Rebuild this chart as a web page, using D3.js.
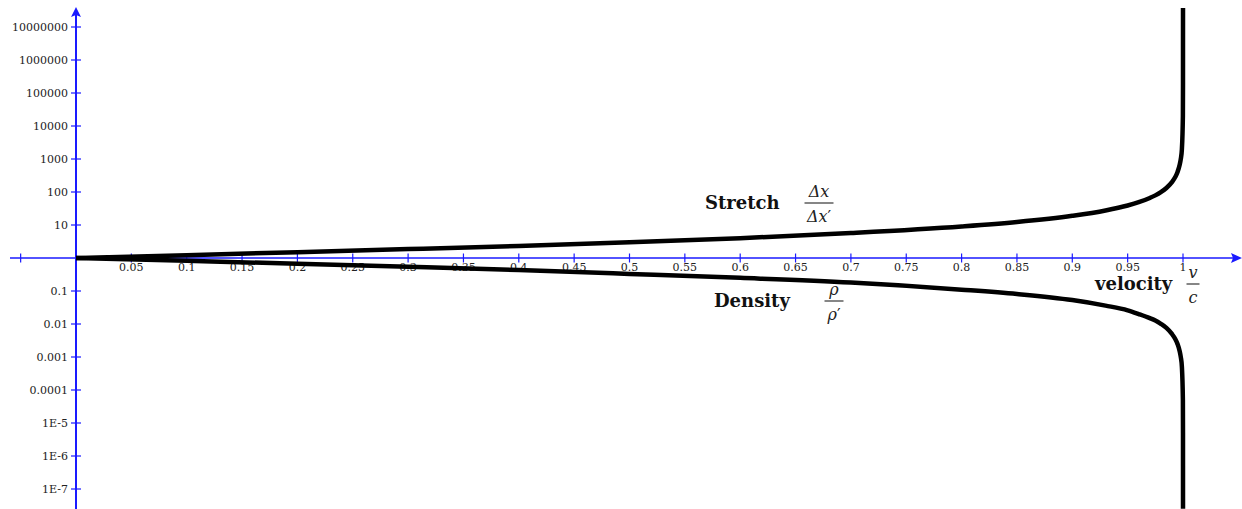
<!DOCTYPE html>
<html>
<head>
<meta charset="utf-8">
<title>Stretch and density vs velocity</title>
<style>
  body { margin: 0; background: #fff; }
  svg { display: block; }
  .tick-label { font: 11px "DejaVu Serif", serif; fill: #222; }
  .big { font: bold 18px "DejaVu Serif", serif; fill: #111; }
  .frac { font: italic 16px "DejaVu Serif", serif; fill: #222; }
  .prime { font-style: normal; }
</style>
</head>
<body>
<script src="https://cdn.jsdelivr.net/npm/d3@7/dist/d3.min.js"></script>
<script>
// values
const velocity = [0, 0.1, 0.2, 0.3, 0.4, 0.5, 0.6, 0.7, 0.8, 0.85, 0.9, 0.93, 0.95, 0.96, 0.97,
  0.975, 0.98, 0.985, 0.99, 0.993, 0.995, 0.997, 0.998, 0.999, 0.9999, 0.99999, 0.999999, 0.9999999, 0.99999995];
const stretch = [1, 1.22, 1.5, 1.86, 2.33, 3, 4, 5.7, 9, 12.3, 19, 27.6, 39, 49, 66,
  79, 99, 132, 199, 284, 399, 665, 999, 1999, 20000, 2e5, 2e6, 2e7, 4e7];
const density = [1, 0.82, 0.67, 0.54, 0.43, 0.33, 0.25, 0.18, 0.11, 0.081, 0.053, 0.036, 0.026, 0.02, 0.015,
  0.0127, 0.0101, 0.0076, 0.005, 0.0035, 0.0025, 0.0015, 0.001, 5e-4, 5e-5, 5e-6, 5e-7, 5e-8, 2.5e-8];

const xTicks = [-0.05, 0.05, 0.1, 0.15, 0.2, 0.25, 0.3, 0.35, 0.4, 0.45, 0.5, 0.55, 0.6, 0.65,
  0.7, 0.75, 0.8, 0.85, 0.9, 0.95, 1];
const xTickLabels = ["", "0.05", "0.1", "0.15", "0.2", "0.25", "0.3", "0.35", "0.4", "0.45", "0.5",
  "0.55", "0.6", "0.65", "0.7", "0.75", "0.8", "0.85", "0.9", "0.95", "1"];
const yTicks = [1e7, 1e6, 1e5, 1e4, 1e3, 100, 10, 0.1, 0.01, 0.001, 1e-4, 1e-5, 1e-6, 1e-7];
const yTickLabels = ["10000000", "1000000", "100000", "10000", "1000", "100", "10",
  "0.1", "0.01", "0.001", "0.0001", "1E-5", "1E-6", "1E-7"];

var width = 1242, height = 509;
var blue = "#1a1aff";

// 0 -> 76px, 1 -> 1183px ; one decade = 33px, 1 sits at 258px
var x = d3.scaleLinear().domain([0, 1]).range([76, 1183]);
var y = d3.scaleLog().domain([1e7, 1e-7]).range([27, 489]);

var svg = d3.select("body").append("svg")
  .attr("width", width)
  .attr("height", height);

// axes
var y0 = y(1), x0 = x(0);

svg.append("line")
  .attr("x1", 10).attr("x2", 1234)
  .attr("y1", y0).attr("y2", y0)
  .attr("stroke", blue).attr("stroke-width", 1.5);
svg.append("path")
  .attr("d", `M1242,${y0} L1231,${y0 - 5} L1233,${y0} L1231,${y0 + 5} Z`)
  .attr("fill", blue);

svg.append("line")
  .attr("x1", x0).attr("x2", x0)
  .attr("y1", 14).attr("y2", height)
  .attr("stroke", blue).attr("stroke-width", 2);
svg.append("path")
  .attr("d", `M${x0},7 L${x0 - 5},17 L${x0},15 L${x0 + 5},17 Z`)
  .attr("fill", blue);

// x ticks
var xt = svg.append("g").selectAll("g")
  .data(xTicks)
  .join("g")
  .attr("transform", d => `translate(${x(d)},${y0})`);
xt.append("line")
  .attr("y1", -4.5).attr("y2", 4.5)
  .attr("stroke", blue).attr("stroke-width", 1.2);
xt.append("text")
  .attr("class", "tick-label")
  .attr("y", 13)
  .attr("text-anchor", "middle")
  .text((d, i) => xTickLabels[i]);

// y ticks
var yt = svg.append("g").selectAll("g")
  .data(yTicks)
  .join("g")
  .attr("transform", d => `translate(${x0},${y(d)})`);
yt.append("line")
  .attr("x1", -5).attr("x2", 5)
  .attr("stroke", blue).attr("stroke-width", 1.2);
yt.append("text")
  .attr("class", "tick-label")
  .attr("x", -8)
  .attr("dy", "0.35em")
  .attr("text-anchor", "end")
  .text((d, i) => yTickLabels[i]);

// curves
var line = d3.line()
  .x(d => x(d[0]))
  .y(d => y(d[1]))
  .curve(d3.curveMonotoneX);

svg.append("clipPath").attr("id", "clip")
  .append("rect").attr("x", 0).attr("y", 8).attr("width", width).attr("height", height);

var curves = svg.append("g").attr("clip-path", "url(#clip)")
  .attr("fill", "none")
  .attr("stroke", "#000")
  .attr("stroke-width", 4.5);

curves.append("path").attr("d", line(velocity.map((v, i) => [v, stretch[i]])));
curves.append("path").attr("d", line(velocity.map((v, i) => [v, density[i]])));

// labels with fractions
function label(tx, ty, word, fx, num, den, prime, barW) {
  svg.append("text").attr("class", "big")
    .attr("x", tx).attr("y", ty).text(word);
  svg.append("text").attr("class", "frac")
    .attr("x", fx).attr("y", ty - 12)
    .attr("text-anchor", "middle").text(num);
  svg.append("line")
    .attr("x1", fx - barW / 2).attr("x2", fx + barW / 2)
    .attr("y1", ty - 6).attr("y2", ty - 6)
    .attr("stroke", "#444").attr("stroke-width", 1.3);
  var d = svg.append("text").attr("class", "frac")
    .attr("x", fx).attr("y", ty + 13)
    .attr("text-anchor", "middle").text(den);
  if (prime) d.append("tspan").attr("class", "prime").text("\u2032");
}

label(705, 209, "Stretch", 819, "\u0394x", "\u0394x", true, 29);
label(714, 307, "Density", 834, "\u03c1", "\u03c1", true, 19);
label(1095, 290, "velocity", 1193, "v", "c", false, 13);
</script>
</body>
</html>
